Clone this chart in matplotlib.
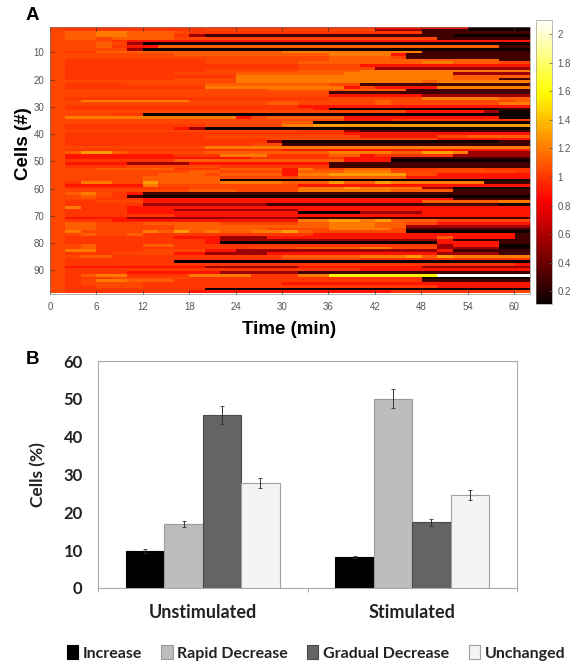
import numpy as np
import matplotlib
matplotlib.use("Agg")
import matplotlib.pyplot as plt

W, H = 581, 671

# Heatmap: each row lists "start column:level" change points (31 columns of 2 min)
LEVEL_VALUES = {'0': 0.13, '1': 0.28, '2': 0.55, '3': 0.90, '4': 1.00, '5': 1.05,
                '6': 1.12, '7': 1.20, '8': 1.30, '9': 1.55, 'W': 2.10}
CELL_ROWS = [
 "0:5 1:4 21:3 27:0",
 "0:5 1:4 10:5 21:2 24:1 27:0",
 "0:5 1:6 3:7 5:6 8:5 9:4 24:1",
 "0:5 1:6 3:7 5:6 8:4 9:2 10:1 25:1 26:0",
 "0:5 1:6 3:5 4:6 8:5 24:5 25:1",
 "0:5 1:5 4:4 5:3 25:3",
 "0:5 1:5 3:6 4:5 5:2 6:0",
 "0:5 1:5 3:6 4:4 5:3 7:6 29:1",
 "0:5 1:5 5:2 6:0",
 "0:5 1:4 3:6 8:6 15:7 24:1",
 "0:5 1:5 8:6 18:7 22:3 23:1",
 "0:5 1:5 9:5 15:5 18:6 22:5 23:1",
 "0:5 1:4 10:5 18:6 23:6 29:1",
 "0:5 1:4 10:5 16:6 24:7 26:6 29:5",
 "0:5 1:4 16:5 20:3 30:3",
 "0:5 1:4 16:5 21:2",
 "0:5 1:4 10:5 16:6 20:7",
 "0:5 1:4 8:5 12:6 19:7 26:2",
 "0:5 1:4 12:7 20:7 26:6",
 "0:5 1:4 8:5 12:7 26:6 29:1",
 "0:5 1:5 12:7 24:6 25:7 29:7",
 "0:5 1:4 5:5 10:6 12:6 18:5 20:1",
 "0:5 1:4 10:7 18:7 19:3 20:5 21:3 25:7",
 "0:5 1:5 10:5 14:6 20:6 23:1",
 "0:5 1:5 14:5 18:1",
 "0:5 1:5 12:5 18:3 24:2",
 "0:5 1:4 18:5 24:7 29:6",
 "0:5 1:5 2:7 9:5 18:5 21:6 22:5 30:6",
 "0:5 1:5 14:6 16:5 21:6 22:5 29:7",
 "0:5 1:4 16:3 18:3 26:3",
 "0:5 1:4 12:4 17:3 18:0 29:1",
 "0:5 1:5 12:5 16:5 23:3 28:2 29:0",
 "0:5 1:5 4:4 6:0",
 "0:5 1:7 12:3 13:5 14:6 19:3 29:0",
 "0:5 1:5 10:5 14:5 19:3 22:4",
 "0:5 1:5 9:5 15:6 17:0",
 "0:5 1:4 10:5 15:7 17:8",
 "0:5 1:4 8:3 9:2 10:0",
 "0:5 1:5 10:5 16:4 19:2 20:1",
 "0:5 1:4 19:3 30:3",
 "0:5 1:4 10:5 20:3 25:5 27:6",
 "0:5 1:4 14:5 25:3",
 "0:5 1:4 14:3 14:2 15:0 29:1",
 "0:5 1:4 13:5 15:1",
 "0:5 1:5 10:7 30:7",
 "0:5 1:4 15:3 30:3",
 "0:5 1:6 2:8 4:6 5:5 10:6 18:7 22:6 24:8 26:7 27:2",
 "0:5 1:3 8:4 11:7 14:4 18:6 20:3 21:4 26:2",
 "0:5 1:3 13:4 19:3 22:1",
 "0:5 1:4 8:6 19:3 22:0",
 "0:5 1:3 5:2 9:3 16:3 18:1",
 "0:5 1:4 5:5 11:4 18:1",
 "0:5 1:5 3:6 8:4 11:6 15:3 16:7 17:5 19:6 22:4 25:5 28:4",
 "0:5 1:5 3:5 7:5 9:6 11:5 15:3 16:6 19:7 22:5 30:4",
 "0:5 1:5 7:6 10:5 11:6 15:3 16:7 18:8 23:5 25:3",
 "0:5 1:5 6:6 11:5 16:6 23:3",
 "0:5 1:5 6:6 11:0",
 "0:5 1:4 2:7 4:5 6:8 7:6 11:7 15:6 18:8 19:6 21:8 22:7 28:1",
 "0:5 1:3 6:7 7:5 12:5 16:3 28:3",
 "0:5 1:4 9:5 16:7 19:8 20:7 24:2 26:0",
 "0:5 1:5 9:6 12:5 16:7 22:6 26:1",
 "0:5 1:6 2:7 3:5 4:4 5:3 6:1",
 "0:5 1:5 2:6 3:5 4:4 5:1 6:0",
 "0:5 1:5 3:4 6:3 24:3 26:1",
 "0:5 1:4 3:5 6:3 24:6 29:7",
 "0:5 1:4 6:2 14:1 29:0",
 "0:5 1:7 2:4 5:3 30:3",
 "0:5 1:4 5:3 8:2 16:3 30:3",
 "0:5 1:4 5:3 12:3 16:0 20:2 24:3",
 "0:5 1:4 8:3 18:3 30:3",
 "0:5 1:3 5:2 14:2 16:1 22:1",
 "0:5 1:4 4:3 16:7 18:8 20:7 21:8 22:6 25:5",
 "0:5 1:6 3:5 6:6 11:5 16:6 18:7 21:6 23:5 25:3",
 "0:5 1:6 3:5 8:6 14:6 18:7 21:6 23:2",
 "0:5 1:6 3:5 8:6 14:5 16:5 18:7 22:5 23:1",
 "0:5 1:7 2:5 6:7 7:6 8:8 9:6 10:7 11:6 13:7 15:8 16:6 17:5 23:0",
 "0:5 1:5 2:6 3:5 5:6 6:4 15:4 17:3 29:3 30:1",
 "0:5 1:4 3:4 8:3 11:2 14:3 25:6 26:3 30:1",
 "0:5 1:4 6:4 10:3 11:2 25:3 26:1",
 "0:5 1:4 10:3 11:0 25:3 29:1",
 "0:5 1:5 2:6 3:4 6:6 8:4 14:4 25:2 26:3 29:0",
 "0:5 1:5 2:6 3:4 13:5 16:6 20:7 22:5 25:2 29:0",
 "0:5 1:7 3:4 6:5 10:3 12:2 25:3 26:1",
 "0:5 1:4 4:5 8:3 10:2 14:3 25:2 29:1",
 "0:5 1:5 2:6 4:4 15:6 20:7 23:8 24:6 25:8 26:7 29:7",
 "0:5 1:4 8:4 15:5 20:4",
 "0:5 1:4 8:0",
 "0:5 1:4 8:4 30:3",
 "0:5 1:3 3:3 8:3 10:2 16:3 24:2",
 "0:5 1:4 10:4 20:3",
 "0:5 1:4 5:3 11:2 16:1",
 "0:5 1:4 2:6 3:7 5:4 9:7 13:4 16:7 18:9 25:W",
 "0:5 1:4 4:5 9:4 24:0",
 "0:5 1:4 2:5 3:7 5:6 8:4 24:1",
 "0:5 1:4 2:5 3:5 6:4 15:3 30:3",
 "0:5 1:4 3:5 6:4 25:3",
 "0:5 1:4 10:0",
 "0:5 1:4 9:3 18:3 22:4 30:5",
]
TIME_TICKS = [0, 6, 12, 18, 24, 30, 36, 42, 48, 54, 60]
CELL_TICKS = [10, 20, 30, 40, 50, 60, 70, 80, 90]
CBAR_TICKS = [0.2, 0.4, 0.6, 0.8, 1, 1.2, 1.4, 1.6, 1.8, 2]

# Bar chart
GROUPS = ["Unstimulated", "Stimulated"]
CATEGORIES = ["Increase", "Rapid Decrease", "Gradual Decrease", "Unchanged"]
UNSTIM = [9.7, 16.8, 45.7, 27.7]
STIM = [8.2, 50.0, 17.4, 24.5]
UNSTIM_ERR = [0.5, 0.8, 2.4, 1.3]
STIM_ERR = [0.3, 2.5, 0.9, 1.3]
FILLS = ["#000000", "#bdbdbd", "#646464", "#f4f4f4"]
EDGES = ["#000000", "#9a9a9a", "#4a4a4a", "#a0a0a0"]


def expand(row):
    out = np.zeros(31)
    pts = [p.split(":") for p in row.split()]
    for i, (s, lev) in enumerate(pts):
        e = int(pts[i + 1][0]) if i + 1 < len(pts) else 31
        out[int(s):e] = LEVEL_VALUES[lev]
    return out


matrix = np.array([expand(r) for r in CELL_ROWS])


def px_axes(fig, l, t, r, b):
    return fig.add_axes([l / W, 1 - b / H, (r - l) / W, (b - t) / H])


fig = plt.figure(figsize=(W / 100, H / 100), dpi=100)
SANS = "Liberation Sans"
GREY = "#555555"

# Panel A
ax = px_axes(fig, 50, 26.5, 529.5, 293.5)
im = ax.imshow(matrix, cmap="hot", vmin=0.11, vmax=2.1, aspect="auto",
               extent=(0, 62, 98.5, 0.5), interpolation="nearest")
ax.set_xticks(TIME_TICKS)
ax.set_yticks(CELL_TICKS)
ax.tick_params(axis="both", direction="in", length=3, width=0.5, color="#333333",
               labelsize=7, labelcolor=GREY, top=True, bottom=True, left=True, right=False)
ax.tick_params(axis="x", pad=6)
ax.tick_params(axis="y", pad=4)
for lab in ax.get_xticklabels() + ax.get_yticklabels():
    lab.set_family(SANS)
for s in ax.spines.values():
    s.set_linewidth(0.4)
    s.set_color("#777777")
fig.text(289 / W, 1 - 330 / H, "Time (min)", fontsize=13.5, fontweight="bold", family=SANS,
         ha="center", va="center")
fig.text(23 / W, 1 - 144 / H, "Cells (#)", fontsize=13.5, fontweight="bold", family=SANS,
         ha="center", va="center", rotation=90)

# Colorbar
cax = px_axes(fig, 536, 20, 552, 304)
cb = fig.colorbar(im, cax=cax, ticks=CBAR_TICKS)
cb.ax.set_yticklabels([f"{t:g}" for t in CBAR_TICKS], family=SANS)
cb.ax.tick_params(labelsize=7, labelcolor=GREY, length=2, width=0.5, direction="in",
                  color="#555555", pad=4)
cb.outline.set_linewidth(0.4)
cb.outline.set_edgecolor("#888888")

fig.text(26 / W, 1 - 16 / H, "A", fontsize=13.5, fontweight="bold", family=SANS,
         ha="left", va="center")
fig.text(26 / W, 1 - 360 / H, "B", fontsize=13.5, fontweight="bold", family=SANS,
         ha="left", va="center")

# Panel B
bx = px_axes(fig, 98, 361, 517, 588)
BOLD = "Lato"
n = len(CATEGORIES)
width = 0.733 / n
x = np.arange(len(GROUPS))
for i in range(n):
    vals = [UNSTIM[i], STIM[i]]
    errs = [UNSTIM_ERR[i], STIM_ERR[i]]
    bx.bar(x + (i - (n - 1) / 2) * width, vals, width, color=FILLS[i], edgecolor=EDGES[i],
           linewidth=0.8, label=CATEGORIES[i], yerr=errs,
           error_kw=dict(ecolor="#333333", elinewidth=0.7, capsize=1.3, capthick=0.6))
bx.set_xlim(-0.5, 1.5)
bx.set_ylim(0, 60)
bx.set_yticks(range(0, 61, 10))
bx.set_xticks([-0.5, 0.5, 1.5])
bx.set_xticklabels([])
bx.tick_params(axis="y", length=0, labelsize=12, pad=11)
bx.tick_params(axis="x", length=3, width=0.6, color="#999999")
for lab in bx.get_yticklabels():
    lab.set_family(BOLD)
    lab.set_fontweight("bold")
    lab.set_color("#222222")
for s in bx.spines.values():
    s.set_linewidth(0.8)
    s.set_color("#aaaaaa")
bx.set_ylabel("Cells (%)", fontsize=12.5, fontweight="bold", family=BOLD, color="#222222")
bx.yaxis.set_label_coords(-0.124, 0.5)
for xi, g in zip(x, GROUPS):
    bx.annotate(g, (xi, 0), xytext=(0, -17.5), textcoords="offset points", ha="center", va="center",
                fontsize=13, fontweight="bold", family=BOLD, color="#222222")

# Legend
leg = fig.legend(*bx.get_legend_handles_labels(), loc="center", bbox_to_anchor=(316 / W, 1 - 653 / H),
                 ncol=4, frameon=False, handlelength=0.7, handleheight=0.9, handletextpad=0.3,
                 columnspacing=1.2, prop=dict(family=BOLD, weight="bold", size=11.5))
for t in leg.get_texts():
    t.set_color("#222222")

fig.savefig("out.png", dpi=100)
